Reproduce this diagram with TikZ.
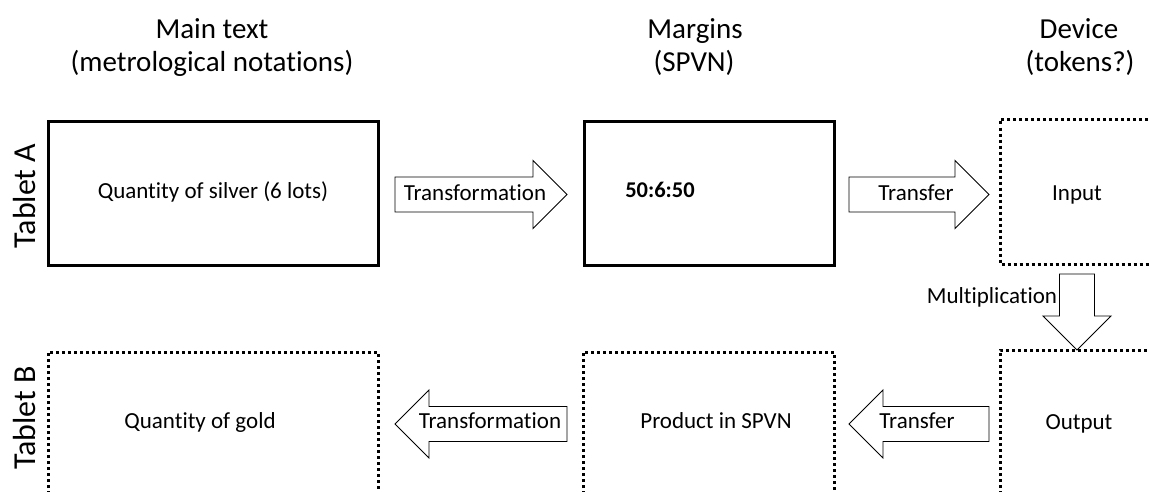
\documentclass[tikz,border=0pt]{standalone}
\usepackage{fontspec}
\setmainfont{Carlito}[Ligatures=NoCommon]
\begin{document}
\begin{tikzpicture}[x=1pt,y=-1pt,
  solidbox/.style={draw, line width=3pt, minimum width=#1, inner sep=0pt, outer sep=0pt},
  areabox/.style={inner sep=0pt, outer sep=0pt},
  dotline/.style={line width=3pt, dash pattern=on 3pt off 3pt},
  blockarrow/.style={draw, line width=0.9pt, fill=white, line join=miter},
  barrow/.pic={\draw[blockarrow] (0,0) -- (-34,-34) -- (-34,-17.5) -- (-#1,-17.5)
      -- (-#1,17.5) -- (-34,17.5) -- (-34,34) -- cycle;},
  head/.style={font=\fontsize{29}{33}\selectfont, align=center, anchor=base},
  tab/.style={font=\fontsize{32}{38}\selectfont, rotate=90, anchor=base},
  txt/.style={font=\fontsize{23}{27}\selectfont, anchor=base},
]
\useasboundingbox (0,0) rectangle (1150,492);
\clip (0,0) rectangle (1150,492);

% headers
\node[head] (h1) at (212,39) {Main text};
\node[head] (h1b) at (212,72) {(metrological notations)};
\node[head] (h2) at (695,39) {Margins};
\node[head] (h2b) at (694,72) {(SPVN)};
\node[head] (h3) at (1079,39) {Device};
\node[head] (h3b) at (1080,72) {(tokens?)};

% tablet labels
\node[tab] (ta) at (35,196) {Tablet A};
\node[tab] (tb) at (35,418) {Tablet B};

% Tablet A boxes
\node[solidbox=330pt, minimum height=143pt] (silver) at (213,193.5) {};
\node[solidbox=250pt, minimum height=144pt] (margA) at (709,193.5) {};
\node[areabox, minimum width=160pt, minimum height=144.5pt] (input) at (1080,191.75) {};
\draw[dotline] (input.north east) -- (input.north west) -- (input.south west) -- (input.south east);

% Tablet B boxes
\node[areabox, minimum width=330pt, minimum height=148pt] (gold) at (213,426) {};
\draw[dotline] (gold.south west) -- (gold.north west) -- (gold.north east) -- (gold.south east);
\node[areabox, minimum width=251pt, minimum height=148pt] (prod) at (708.5,426) {};
\draw[dotline] (prod.south west) -- (prod.north west) -- (prod.north east) -- (prod.south east);
\node[areabox, minimum width=160pt, minimum height=150pt] (output) at (1080,425) {};
\draw[dotline] (output.south west) -- (output.north west) -- (output.north east);

% box texts
\node[txt] (tsilver) at (213,198.5) {Quantity of silver (6 lots)};
\node[txt, font=\fontsize{22.5}{27}\selectfont\bfseries] (tmarg) at (660,197) {50:6:50};
\node[txt] (tinput) at (1077,200) {Input};
\node[txt] (tgold) at (200,428) {Quantity of gold};
\node[txt] (tprod) at (716,428) {Product in SPVN};
\node[txt] (toutput) at (1079,429) {Output};

% block arrows (tips named as coordinates)
\coordinate (ar1) at (567,194.5);
\coordinate (ar2) at (989,194.5);
\coordinate (ar3) at (1077,350);
\coordinate (ar4) at (849,424);
\coordinate (ar5) at (395,424);
\pic at (ar1) {barrow=172};
\pic at (ar2) {barrow=140};
\pic[rotate=-90] at (ar3) {barrow=76};
\pic[xscale=-1] at (ar4) {barrow=140};
\pic[xscale=-1] at (ar5) {barrow=172};

% arrow labels
\node[txt] (l1) at (475,200) {Transformation};
\node[txt] (l2) at (916,200) {Transfer};
\node[txt] (l3) at (992,303) {Multiplication};
\node[txt] (l4) at (917,428) {Transfer};
\node[txt] (l5) at (490,428) {Transformation};
\end{tikzpicture}
\end{document}
